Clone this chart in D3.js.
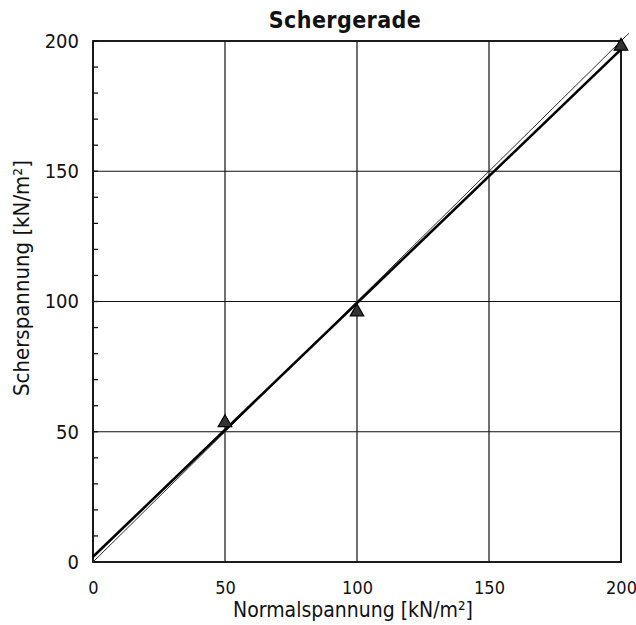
<!DOCTYPE html>
<html>
<head>
<meta charset="utf-8">
<script src="https://cdn.jsdelivr.net/npm/d3@7"></script>
<style>
  html, body { margin: 0; padding: 0; background: #fff; }
  svg { display: block; }
  text { font-family: "DejaVu Sans Condensed", "DejaVu Sans", sans-serif; fill: #111; }
</style>
</head>
<body>
<script>
// Measured shear tests: normal stress vs. shear stress (kN/m²)
const normalStress = [50, 100, 200];
const shearStress = [53.5, 96, 198];

// Fitted shear line (cohesion + tan(phi) * sigma) and the reference line through the origin
const fitLine = { intercept: 2.0, slope: 0.974, xFrom: 0, xTo: 200 };
const refLine = [[0, 0], [203, 203]];

const xTicks = [0, 50, 100, 150, 200];
const yTicks = [0, 50, 100, 150, 200];
const yMinorTicks = d3.range(0, 201, 10);

const W = 636, H = 625;
const m = { left: 93, right: 15, top: 41, bottom: 63 };
const FONT = "DejaVu Sans Condensed, DejaVu Sans, sans-serif";

const svg = d3.select("body").append("svg").attr("width", W).attr("height", H);

const x = d3.scaleLinear().domain([0, 200]).range([m.left, W - m.right]);
const y = d3.scaleLinear().domain([0, 200]).range([H - m.bottom, m.top]);

// grid
const g = svg.append("g");
g.selectAll(".gx").data(xTicks).join("line")
  .attr("x1", d => x(d)).attr("x2", d => x(d))
  .attr("y1", y(0)).attr("y2", y(200))
  .attr("stroke", "#111").attr("stroke-width", 1.2);
g.selectAll(".gy").data(yTicks).join("line")
  .attr("y1", d => y(d)).attr("y2", d => y(d))
  .attr("x1", x(0)).attr("x2", x(200))
  .attr("stroke", "#111").attr("stroke-width", 1.2);

// frame
svg.append("rect")
  .attr("x", x(0)).attr("y", y(200))
  .attr("width", x(200) - x(0)).attr("height", y(0) - y(200))
  .attr("fill", "none").attr("stroke", "#111").attr("stroke-width", 1.8);

// y minor ticks (inside)
svg.selectAll(".ymin").data(yMinorTicks).join("line")
  .attr("x1", x(0)).attr("x2", x(0) + 5)
  .attr("y1", d => y(d)).attr("y2", d => y(d))
  .attr("stroke", "#111").attr("stroke-width", 1.3);

// tick labels via d3 axes (labels only)
const xAxis = svg.append("g")
  .attr("transform", `translate(0,${y(0)})`)
  .call(d3.axisBottom(x).tickValues(xTicks).tickSize(0).tickPadding(19));
xAxis.select(".domain").remove();
xAxis.selectAll("text").attr("font-size", 18).attr("font-family", FONT).attr("fill", "#111");

const yAxis = svg.append("g")
  .attr("transform", `translate(${x(0)},0)`)
  .call(d3.axisLeft(y).tickValues(yTicks).tickSize(0).tickPadding(14));
yAxis.select(".domain").remove();
yAxis.selectAll("text").attr("font-size", 20).attr("font-family", FONT).attr("fill", "#111");

// reference line through origin (thin)
const line = d3.line().x(d => x(d[0])).y(d => y(d[1]));
svg.append("path")
  .attr("d", line(refLine))
  .attr("fill", "none").attr("stroke", "#333").attr("stroke-width", 1);

// fitted shear line (thick)
const fitPts = [fitLine.xFrom, fitLine.xTo].map(v => [v, fitLine.intercept + fitLine.slope * v]);
svg.append("path")
  .attr("d", line(fitPts))
  .attr("fill", "none").attr("stroke", "#000").attr("stroke-width", 2.6);

// measured points as triangles
const tri = d3.symbol().type(d3.symbolTriangle).size(80);
svg.selectAll(".pt").data(normalStress).join("path")
  .attr("d", tri)
  .attr("transform", (d, i) => `translate(${x(d)},${y(shearStress[i])})`)
  .attr("fill", "#333").attr("stroke", "#000").attr("stroke-width", 1.2);

// title
svg.append("text")
  .attr("x", 345).attr("y", 28)
  .attr("text-anchor", "middle")
  .attr("font-family", "DejaVu Sans, sans-serif")
  .attr("font-weight", "bold").attr("font-size", 23)
  .attr("letter-spacing", 0.4)
  .text("Schergerade");

// axis titles
svg.append("text")
  .attr("x", 353).attr("y", 617)
  .attr("text-anchor", "middle").attr("font-size", 21)
  .text("Normalspannung [kN/m²]");

svg.append("text")
  .attr("transform", "translate(29,278) rotate(-90)")
  .attr("text-anchor", "middle").attr("font-size", 22)
  .text("Scherspannung [kN/m²]");
</script>
</body>
</html>
